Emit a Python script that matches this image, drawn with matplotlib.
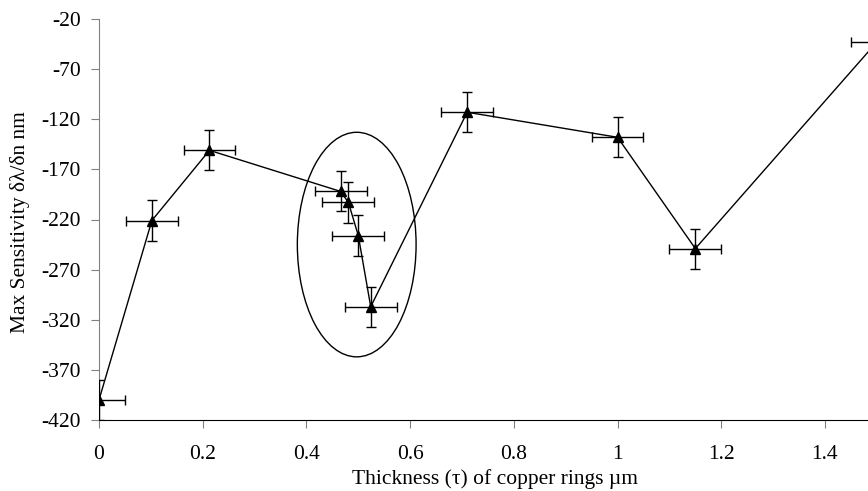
import numpy as np
from matplotlib import pyplot as plt
from matplotlib.patches import Ellipse

# values
thickness = [0.0, 0.102, 0.213, 0.466, 0.481, 0.50, 0.524, 0.71, 1.0, 1.15, 1.50]
sensitivity = [-400, -221, -151, -192, -203, -236, -307, -113, -138, -249, -43]
thickness_err = [0.05] * len(thickness)
sensitivity_err = [20] * len(thickness)

y_ticks = [-420, -370, -320, -270, -220, -170, -120, -70, -20]
x_ticks = [0, 0.2, 0.4, 0.6, 0.8, 1.0, 1.2, 1.4]
x_tick_labels = ["0", "0.2", "0.4", "0.6", "0.8", "1", "1.2", "1.4"]

# circled group of points (centre, width, height in data units)
ELLIPSE_CENTER = (0.497, -245)
ELLIPSE_W = 0.229
ELLIPSE_H = 224

plt.rcParams['font.family'] = ['Liberation Serif', 'DejaVu Serif']
plt.rcParams['axes.unicode_minus'] = False

W, H = 868, 491
fig = plt.figure(figsize=(W / 100, H / 100), dpi=100)
ax = fig.add_axes([99 / W, 1 - 420 / H, 1 - 99 / W, (420 - 19) / H])

ax.errorbar(thickness, sensitivity, xerr=thickness_err, yerr=sensitivity_err,
            color='black', marker='^', markersize=7, linewidth=1.0,
            elinewidth=1.0, capsize=3.8, capthick=1.0, zorder=3)

ax.add_patch(Ellipse(ELLIPSE_CENTER, ELLIPSE_W, ELLIPSE_H, fill=False,
                     edgecolor='black', linewidth=1.0))

ax.set_xlim(0, 1.483)
ax.set_ylim(-420, -20)
ax.set_yticks(y_ticks)
ax.set_xticks(x_ticks)
ax.set_xticklabels(x_tick_labels)

for side in ['top', 'right']:
    ax.spines[side].set_visible(False)
ax.spines['left'].set_color('#808080')
ax.spines['bottom'].set_color('black')
ax.tick_params(axis='y', direction='out', length=6, colors='#808080',
               labelcolor='black', labelsize=15.5, pad=7)
ax.tick_params(axis='x', direction='out', length=6, colors='#808080',
               labelcolor='black', labelsize=15.5, pad=12)

fig.text(20 / W, 1 - 222 / H, "Max Sensitivity δλ/δn nm", rotation=90,
         ha='center', va='center', fontsize=15.5)
fig.text(495 / W, 1 - 479 / H, "Thickness (τ) of copper rings µm",
         ha='center', va='center', fontsize=15.5)

fig.savefig("out.png", dpi=100)
